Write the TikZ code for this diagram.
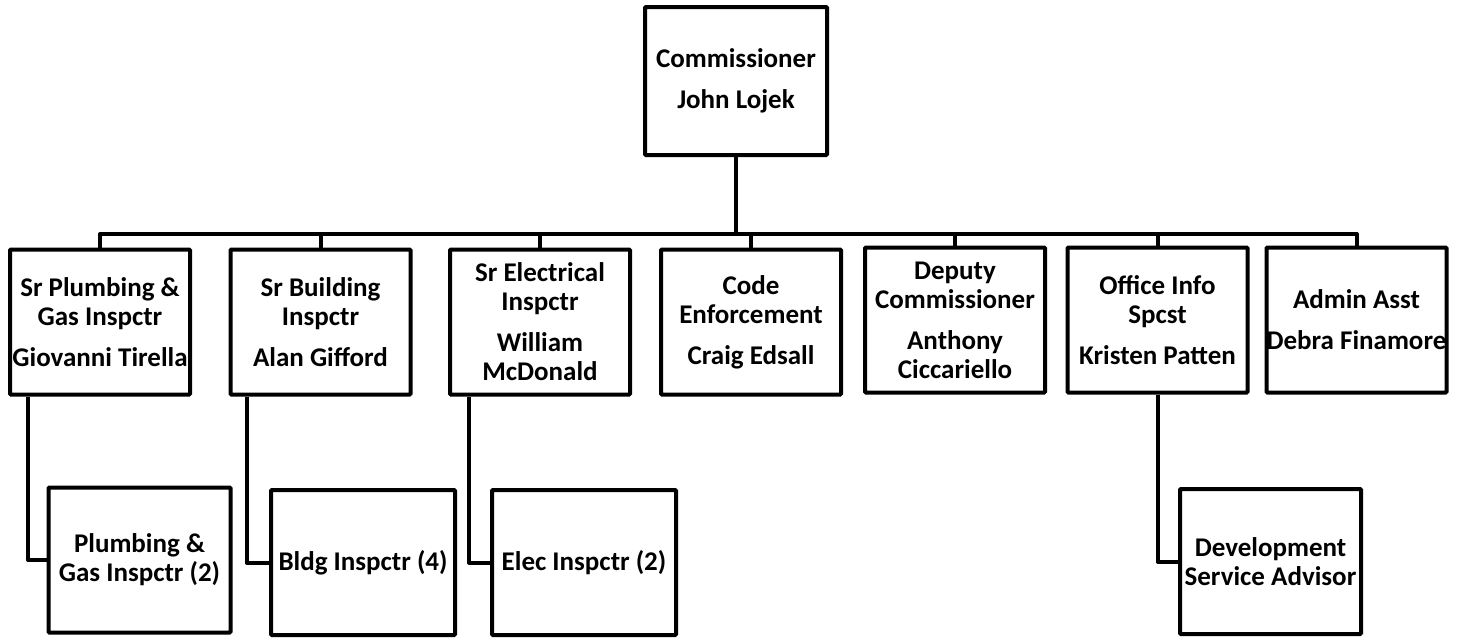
\documentclass[tikz,border=0pt]{standalone}
\usepackage{fontspec}
\setmainfont{Carlito}
\begin{document}
\begin{tikzpicture}[x=1pt,y=-1pt,
  box/.style={draw, line width=4pt, rounded corners=1pt, inner sep=0pt, align=center,
    minimum width=180pt, minimum height=145pt,
    font=\fontsize{27}{29}\selectfont\bfseries},
  link/.style={line width=4pt, line join=round}]
\useasboundingbox (0,0) rectangle (1460,638);
% top
\node[box, minimum width=182pt, minimum height=148pt] (top) at (736,81) {Commissioner\\[12pt]John Lojek};
% level 2
\node[box] (b1) at (100,322) {Sr Plumbing \&\\Gas Inspctr\\[12pt]Giovanni Tirella};
\node[box] (b2) at (320.5,322) {Sr Building\\Inspctr\\[12pt]Alan Gifford};
\node[box] (b3) at (540,322) {Sr Electrical\\Inspctr\\[12pt]William\\McDonald};
\node[box] (b4) at (751,322) {Code\\Enforcement\\[12pt]Craig Edsall};
\node[box] (b5) at (955,320) {Deputy\\Commissioner\\[12pt]Anthony\\Ciccariello};
\node[box] (b6) at (1157.5,320) {Office Info\\Spcst\\[12pt]Kristen Patten};
\node[box] (b7) at (1356.5,320) {Admin Asst\\[12pt]Debra Finamore};
% level 3
\node[box, minimum width=182pt] (p) at (139.5,560) {Plumbing \&\\Gas Inspctr (2)};
\node[box, minimum width=184pt] (bi) at (363,562.5) {Bldg Inspctr (4)};
\node[box, minimum width=184pt] (ei) at (584,562.5) {Elec Inspctr (2)};
\node[box, minimum width=181pt] (dsa) at (1270.5,561.5) {Development\\Service Advisor};
% connectors
\coordinate (bus) at (736,234);
\draw[link] (top.south) -- (bus);
\draw[link] (b1.north) -- (b1.north |- bus) -| (b7.north);
\foreach \n in {b2,b3,b4,b5,b6} \draw[link] (\n.north) -- (\n.north |- bus);
\draw[link] ([xshift=20pt]b1.south west) |- (p.west);
\draw[link] ([xshift=18pt]b2.south west) |- (bi.west);
\draw[link] ([xshift=21pt]b3.south west) |- (ei.west);
\draw[link] (b6.south) |- (dsa.west);
\end{tikzpicture}
\end{document}
